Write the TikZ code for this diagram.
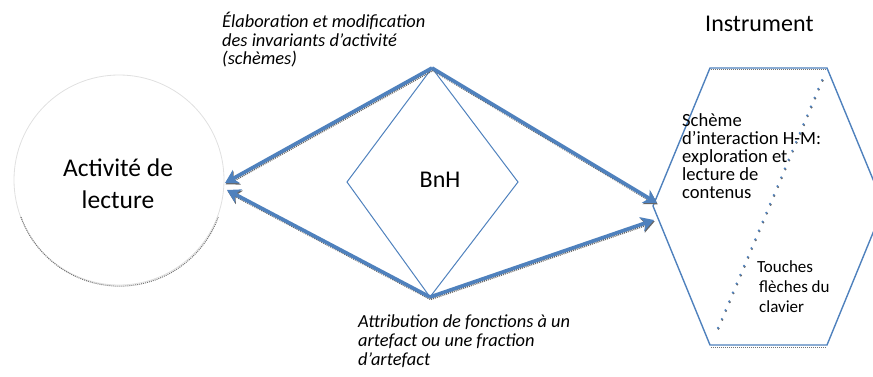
\documentclass[tikz,border=0pt]{standalone}
\usepackage{fontspec}
\setmainfont{Carlito}
\usetikzlibrary{arrows.meta}
\definecolor{ablue}{RGB}{79,129,189}
\tikzset{
  bigarrow/.style={draw=ablue, line width=3.6pt, -{Stealth[length=13pt,width=15pt,inset=4pt]},
    preaction={draw=black!60, line width=3.6pt, dash pattern=on 1pt off 1pt,
      transform canvas={shift={(0.7pt,-1.3pt)}}}},
  thinblue/.style={draw=ablue, line width=1pt},
  hexline/.style={draw=ablue, line width=1.4pt},
  itxt/.style={font=\fontsize{18.4}{18.6}\selectfont\itshape, align=left, inner sep=0pt, anchor=base west},
  ntxt/.style={font=\fontsize{18.6}{17.8}\selectfont, align=left, inner sep=0pt, anchor=base west},
}
\begin{document}
\begin{tikzpicture}[x=1pt,y=-1pt]
\useasboundingbox (0,0) rectangle (873,377);
\clip (0,0) rectangle (873,377);
% circle
\node[circle, minimum size=210pt, inner sep=0pt, draw=black!12, line width=0.8pt] (act) at (119,180) {};
\draw[black!55, line width=1pt, dash pattern=on 1pt off 1pt] ([shift={(1,1)}]act.200) arc[start angle=200, end angle=340, radius=105pt];
\node[font=\fontsize{25.5}{32}\selectfont, align=center, inner sep=0pt, anchor=base] (acttxt) at (118,208) {Activité de\\lecture};
% diamond
\coordinate (dt) at (432,68);
\coordinate (dl) at (347,182);
\coordinate (dr) at (518,182);
\coordinate (db) at (430,297);
\draw[thinblue] (dt) -- (dr) -- (db) -- (dl) -- cycle;
\node[font=\fontsize{24}{28}\selectfont, inner sep=0pt, anchor=base] (bnh) at (440,187) {BnH};
% hexagon
\coordinate (h1) at (710,68);
\coordinate (h2) at (827,68);
\coordinate (h3) at (884,206);
\coordinate (h4) at (827,345);
\coordinate (h5) at (710,345);
\coordinate (h6) at (653,206);
\draw[black!55, line width=1pt, dash pattern=on 1pt off 1pt] ([shift={(1,2)}]h1) -- ([shift={(-1,2)}]h2);
\draw[black!55, line width=1pt, dash pattern=on 1pt off 1pt] ([shift={(1,2)}]h5) -- ([shift={(-1,2)}]h4);
\draw[hexline] (h1) -- (h2) -- (h3) -- (h4) -- (h5) -- (h6) -- cycle;
% dotted diagonal
\coordinate (ds) at (822,80);
\coordinate (de) at (715,335);
\draw[black!60, line width=2.4pt, line cap=round, dash pattern=on 0pt off 9.6pt, transform canvas={shift={(0.6pt,-0.8pt)}}] (ds) -- (de);
\draw[ablue, line width=2.4pt, line cap=round, dash pattern=on 0pt off 9.6pt] (ds) -- (de);
% arrow tips
\coordinate (lt1) at (225,183);
\coordinate (lt2) at (227,190);
\coordinate (rt1) at (657,203);
\coordinate (rt2) at (654,220);
\draw[bigarrow] (dt) -- (lt1);
\draw[bigarrow] (db) -- (lt2);
\draw[bigarrow] (dt) -- (rt1);
\draw[bigarrow] (db) -- (rt2);
% texts
\node[itxt] (t1) at (222,65) {Élaboration et modification\\des invariants d’activité\\(schèmes)};
\node[itxt] (t2) at (358,365) {Attribution de fonctions à un\\artefact ou une fraction\\d’artefact};
\node[font=\fontsize{24}{28}\selectfont, inner sep=0pt, anchor=base west] (instr) at (705,32) {Instrument};
\node[ntxt] (sch) at (682,198) {Schème\\d’interaction H-M:\\exploration et\\lecture de\\contenus};
\node[font=\fontsize{17}{20}\selectfont, align=left, inner sep=0pt, anchor=base west] (tou) at (757,312) {Touches\\\hspace*{2pt}flèches du\\\hspace*{2pt}clavier};
\end{tikzpicture}
\end{document}
